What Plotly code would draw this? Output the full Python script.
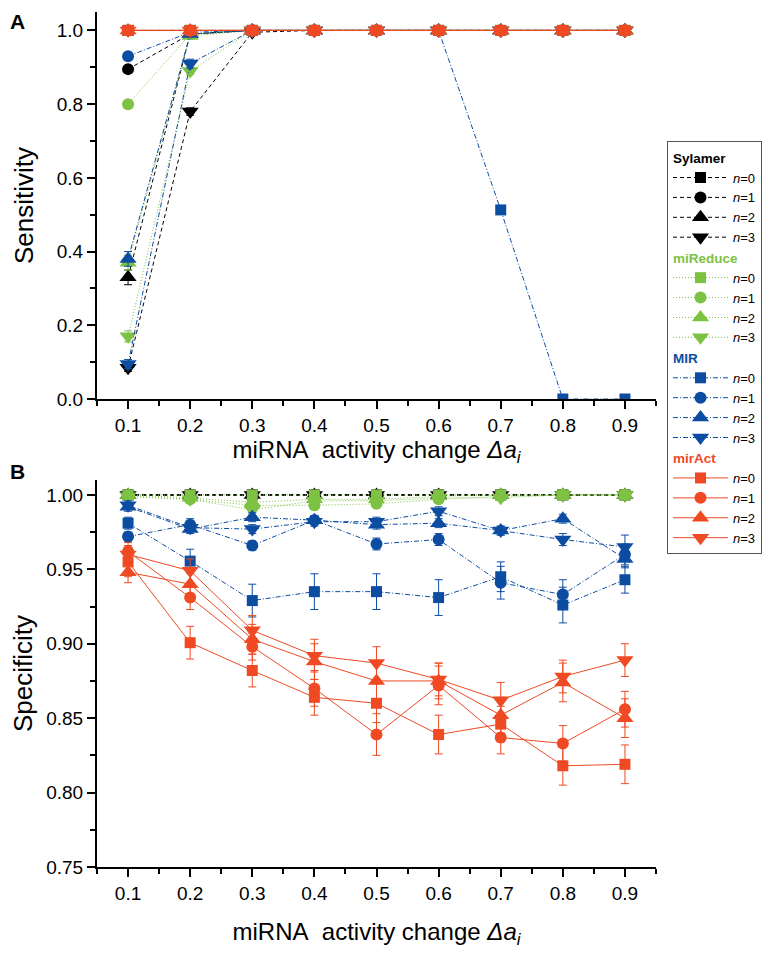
import plotly.graph_objects as go

# ---------------- data ----------------
DELTA = [0.1, 0.2, 0.3, 0.4, 0.5, 0.6, 0.7, 0.8, 0.9]
N_LABELS = ["<i>n</i>=0", "<i>n</i>=1", "<i>n</i>=2", "<i>n</i>=3"]
METHODS = ["Sylamer", "miReduce", "MIR", "mirAct"]

# Panel A: sensitivity (rows n=0..3)
SENS_SYLAMER = [
    [1.0, 1.0, 1.0, 1.0, 1.0, 1.0, 1.0, 1.0, 1.0],
    [0.895, 0.99, 1.0, 1.0, 1.0, 1.0, 1.0, 1.0, 1.0],
    [0.33, 0.99, 1.0, 1.0, 1.0, 1.0, 1.0, 1.0, 1.0],
    [0.085, 0.78, 0.995, 1.0, 1.0, 1.0, 1.0, 1.0, 1.0],
]
SENS_MIREDUCE = [
    [1.0, 1.0, 1.0, 1.0, 1.0, 1.0, 1.0, 1.0, 1.0],
    [0.80, 0.99, 1.0, 1.0, 1.0, 1.0, 1.0, 1.0, 1.0],
    [0.37, 0.985, 1.0, 1.0, 1.0, 1.0, 1.0, 1.0, 1.0],
    [0.17, 0.89, 1.0, 1.0, 1.0, 1.0, 1.0, 1.0, 1.0],
]
SENS_MIR = [
    [1.0, 1.0, 1.0, 1.0, 1.0, 1.0, 0.513, 0.0, 0.0],
    [0.93, 0.995, 1.0, 1.0, 1.0, 1.0, 1.0, 1.0, 1.0],
    [0.38, 0.99, 1.0, 1.0, 1.0, 1.0, 1.0, 1.0, 1.0],
    [0.095, 0.91, 1.0, 1.0, 1.0, 1.0, 1.0, 1.0, 1.0],
]
SENS_MIRACT = [
    [1.0, 1.0, 1.0, 1.0, 1.0, 1.0, 1.0, 1.0, 1.0],
    [1.0, 1.0, 1.0, 1.0, 1.0, 1.0, 1.0, 1.0, 1.0],
    [1.0, 1.0, 1.0, 1.0, 1.0, 1.0, 1.0, 1.0, 1.0],
    [1.0, 1.0, 1.0, 1.0, 1.0, 1.0, 1.0, 1.0, 1.0],
]
SENS_ERR_SYLAMER = [
    [0, 0, 0, 0, 0, 0, 0, 0, 0],
    [0.008, 0.003, 0, 0, 0, 0, 0, 0, 0],
    [0.02, 0.004, 0, 0, 0, 0, 0, 0, 0],
    [0.01, 0.01, 0.003, 0, 0, 0, 0, 0, 0],
]
SENS_ERR_MIREDUCE = [
    [0, 0, 0, 0, 0, 0, 0, 0, 0],
    [0.008, 0.003, 0, 0, 0, 0, 0, 0, 0],
    [0.02, 0.004, 0, 0, 0, 0, 0, 0, 0],
    [0.015, 0.01, 0, 0, 0, 0, 0, 0, 0],
]
SENS_ERR_MIR = [
    [0, 0, 0, 0, 0, 0, 0.012, 0, 0],
    [0.006, 0.003, 0, 0, 0, 0, 0, 0, 0],
    [0.02, 0.004, 0, 0, 0, 0, 0, 0, 0],
    [0.012, 0.012, 0, 0, 0, 0, 0, 0, 0],
]

# Panel B: specificity (rows n=0..3)
SPEC_SYLAMER = [
    [1.0, 1.0, 1.0, 1.0, 1.0, 1.0, 1.0, 1.0, 1.0],
    [1.0, 1.0, 1.0, 1.0, 1.0, 1.0, 1.0, 1.0, 1.0],
    [1.0, 1.0, 1.0, 1.0, 1.0, 1.0, 1.0, 1.0, 1.0],
    [1.0, 1.0, 1.0, 1.0, 1.0, 1.0, 1.0, 1.0, 1.0],
]
SPEC_MIREDUCE = [
    [1.0, 1.0, 1.0, 1.0, 1.0, 1.0, 1.0, 1.0, 1.0],
    [0.999, 0.997, 0.993, 0.993, 0.994, 0.997, 0.999, 1.0, 1.0],
    [1.0, 0.998, 0.995, 0.997, 0.997, 0.999, 1.0, 1.0, 1.0],
    [0.999, 0.997, 0.990, 0.996, 0.996, 0.998, 0.998, 1.0, 1.0],
]
SPEC_MIR = [
    [0.981, 0.9555, 0.929, 0.935, 0.935, 0.931, 0.945, 0.926, 0.943],
    [0.972, 0.980, 0.966, 0.983, 0.967, 0.970, 0.941, 0.933, 0.960],
    [0.992, 0.977, 0.985, 0.983, 0.980, 0.981, 0.976, 0.984, 0.957],
    [0.993, 0.978, 0.977, 0.982, 0.982, 0.989, 0.976, 0.970, 0.965],
]
SPEC_MIRACT = [
    [0.955, 0.9007, 0.882, 0.864, 0.860, 0.839, 0.846, 0.818, 0.819],
    [0.962, 0.931, 0.898, 0.870, 0.839, 0.872, 0.837, 0.833, 0.856],
    [0.948, 0.940, 0.903, 0.888, 0.875, 0.875, 0.852, 0.874, 0.850],
    [0.960, 0.949, 0.909, 0.892, 0.887, 0.876, 0.862, 0.878, 0.889],
]
SPEC_ERR_MIREDUCE = [
    [0, 0, 0, 0, 0, 0, 0, 0, 0],
    [0.001, 0.002, 0.003, 0.003, 0.002, 0.002, 0.001, 0.001, 0.001],
    [0.001, 0.002, 0.003, 0.002, 0.002, 0.001, 0.001, 0.001, 0.001],
    [0.001, 0.002, 0.003, 0.002, 0.002, 0.002, 0.001, 0.001, 0.001],
]
SPEC_ERR_MIR = [
    [0.004, 0.008, 0.011, 0.012, 0.012, 0.012, 0.010, 0.012, 0.009],
    [0.003, 0.004, 0.003, 0.003, 0.004, 0.004, 0.011, 0.010, 0.007],
    [0.003, 0.003, 0.003, 0.003, 0.003, 0.003, 0.003, 0.003, 0.006],
    [0.003, 0.003, 0.003, 0.003, 0.003, 0.003, 0.003, 0.004, 0.008],
]
SPEC_ERR_MIRACT = [
    [0.010, 0.011, 0.011, 0.012, 0.013, 0.013, 0.012, 0.013, 0.013],
    [0.006, 0.008, 0.009, 0.012, 0.014, 0.013, 0.011, 0.012, 0.012],
    [0.007, 0.008, 0.010, 0.012, 0.013, 0.012, 0.012, 0.013, 0.013],
    [0.006, 0.008, 0.010, 0.011, 0.011, 0.011, 0.012, 0.011, 0.011],
]

# ---------------- styles ----------------
COLORS = {"Sylamer": "#000000", "miReduce": "#7DC243", "MIR": "#0C4DA2", "mirAct": "#EF4A23"}
DASHES = {"Sylamer": "4px,3px", "miReduce": "1px,2px", "MIR": "5px,2px,1px,2px", "mirAct": "solid"}
SYMBOLS = ["square", "circle", "triangle-up", "triangle-down"]
SIZES = [11, 12, 15, 15]
FONT = "Liberation Sans, Arial, Helvetica, sans-serif"

sens = {"Sylamer": SENS_SYLAMER, "miReduce": SENS_MIREDUCE, "MIR": SENS_MIR, "mirAct": SENS_MIRACT}
sens_err = {"Sylamer": SENS_ERR_SYLAMER, "miReduce": SENS_ERR_MIREDUCE, "MIR": SENS_ERR_MIR,
            "mirAct": [[0] * 9] * 4}
spec = {"Sylamer": SPEC_SYLAMER, "miReduce": SPEC_MIREDUCE, "MIR": SPEC_MIR, "mirAct": SPEC_MIRACT}
spec_err = {"Sylamer": [[0] * 9] * 4, "miReduce": SPEC_ERR_MIREDUCE, "MIR": SPEC_ERR_MIR,
            "mirAct": SPEC_ERR_MIRACT}

fig = go.Figure()

for panel, (vals, errs, xa, ya) in enumerate([(sens, sens_err, "x", "y"), (spec, spec_err, "x2", "y2")]):
    for m in METHODS:
        c = COLORS[m]
        for k in range(4):
            kw = {}
            if panel == 0:
                kw["legendgrouptitle"] = dict(text="<b>%s</b>" % m,
                                              font=dict(color=c, size=13.5, family=FONT))
                kw["legendgroup"] = m
            fig.add_trace(go.Scatter(
                x=DELTA, y=vals[m][k], xaxis=xa, yaxis=ya,
                mode="lines+markers",
                name=N_LABELS[k],
                showlegend=(panel == 0),
                line=dict(color=c, width=1, dash=DASHES[m]),
                marker=dict(symbol=SYMBOLS[k], size=SIZES[k], color=c, line=dict(width=0)),
                error_y=dict(type="data", array=errs[m][k], thickness=1, width=4, color=c),
                **kw,
            ))

# page body has an 8px margin: figure occupies 8..771 x 8..954 of the window
OFF = 8
W, H = 771 - OFF, 954 - OFF


def px(x):
    return (x - OFF) / W


def py(y):
    return 1 - (y - OFF) / H


xdom = [px(97), px(656)]
axis_common = dict(showline=True, linecolor="black", linewidth=2, ticks="outside", ticklen=8,
                   tickwidth=2, tickcolor="black", showgrid=False, zeroline=False, automargin=False,
                   tickfont=dict(size=19, family=FONT, color="black"))

xa_common = dict(axis_common, range=[0.05, 0.95], tick0=0.1, dtick=0.1, tickformat=".1f",
                 minor=dict(tick0=0.05, dtick=0.05, ticks="outside", ticklen=5, tickwidth=2,
                            tickcolor="black"))

xtitle = "miRNA&nbsp; activity change <i>Δa<sub>i</sub></i>"

fig.update_layout(
    width=W, height=H,
    margin=dict(l=0, r=0, t=0, b=0),
    paper_bgcolor="white", plot_bgcolor="white",
    font=dict(family=FONT, color="black"),
    xaxis=dict(xa_common, domain=xdom, anchor="y",
               title=dict(text=xtitle, font=dict(size=24, family=FONT), standoff=0)),
    yaxis=dict(axis_common, domain=[py(399), py(12)], anchor="x", range=[0, 1.05],
               tick0=0, dtick=0.2, tickformat=".1f",
               minor=dict(tick0=0, dtick=0.1, ticks="outside", ticklen=5, tickwidth=2, tickcolor="black"),
               title=dict(text="Sensitivity", font=dict(size=26, family=FONT), standoff=16)),
    xaxis2=dict(xa_common, domain=xdom, anchor="y2",
                title=dict(text=xtitle, font=dict(size=24, family=FONT), standoff=20)),
    yaxis2=dict(axis_common, domain=[py(867), py(480)], anchor="x2", range=[0.75, 1.01],
                tick0=0.75, dtick=0.05, tickformat=".2f",
                minor=dict(tick0=0.75, dtick=0.025, ticks="outside", ticklen=5, tickwidth=2,
                           tickcolor="black"),
                title=dict(text="Specificity", font=dict(size=26, family=FONT), standoff=12)),
    legend=dict(x=px(667), y=py(141), xanchor="left", yanchor="top",
                bordercolor="#555555", borderwidth=1, bgcolor="white",
                font=dict(size=13, family=FONT, color="black"),
                tracegroupgap=0, itemwidth=55, traceorder="grouped"),
    showlegend=True,
    annotations=[
        dict(text="<b>A</b>", x=0, y=1, xref="paper", yref="paper",
             xanchor="left", yanchor="top", showarrow=False, font=dict(size=21, family=FONT)),
        dict(text="<b>B</b>", x=0, y=py(471), xref="paper", yref="paper",
             xanchor="left", yanchor="middle", showarrow=False, font=dict(size=21, family=FONT)),
    ],
)

fig.write_html("out.html")
